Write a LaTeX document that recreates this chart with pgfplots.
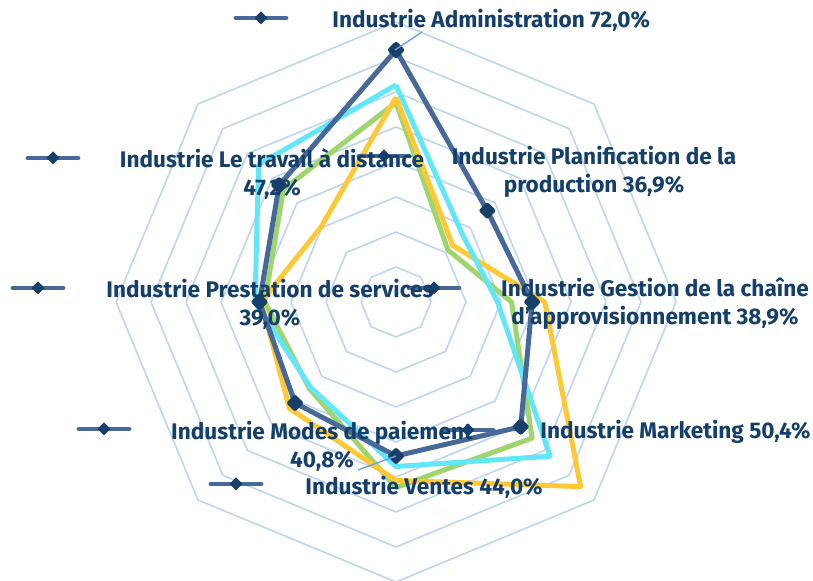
\documentclass[border=0pt]{standalone}
\usepackage{fontspec}
\setmainfont{Fira Sans}
\usepackage{pgfplots}
\usepgfplotslibrary{polar}
\pgfplotsset{compat=1.18}
\usepackage{pgfplotstable}

\definecolor{gridblue}{HTML}{BDD5F3}
\definecolor{leader}{HTML}{6FA0E4}
\definecolor{indline}{HTML}{46699A}
\definecolor{indmark}{HTML}{173F6A}
\definecolor{cyanline}{HTML}{62E6FA}
\definecolor{greenline}{HTML}{9FD56C}
\definecolor{yellowline}{HTML}{FFC935}
\definecolor{labtext}{HTML}{143F6B}

% angle: 90 Administration, 45 Planification, 0 Gestion, 315 Marketing,
% 270 Ventes, 225 Modes de paiement, 180 Prestation, 135 Travail a distance
\pgfplotstableread{
angle industrie cyan green yellow
90  72.0 62.0 57.0 58.5
45  36.9 27.0 21.0 22.9
0   38.9 29.0 33.0 42.5
315 50.4 62.3 55.0 74.6
270 44.0 47.0 53.0 51.0
225 40.8 34.5 35.0 43.0
180 39.0 40.3 37.5 38.5
135 47.2 55.5 45.5 30.3
90  72.0 62.0 57.0 58.5
}\radar

\newcommand{\labkey}[2]{%
  \draw[indline, line width=2.4pt, line cap=round] (#1-25,#2) -- (#1+25,#2);
  \fill[indmark] (#1,#2-6.5) -- (#1+6.5,#2) -- (#1,#2+6.5) -- (#1-6.5,#2) -- cycle;}

\begin{document}
\begin{tikzpicture}
\useasboundingbox (0,0) rectangle (406.5pt,290.5pt);
\clip (0,0) rectangle (406.5pt,290.5pt);
\begin{polaraxis}[
    at={(198pt,139.5pt)}, anchor=origin,
    scale only axis, width=280pt, height=280pt,
    xmin=0, xmax=360, ymin=0, ymax=80,
    hide axis, clip=false,
    line join=round,
]
\pgfplotsinvokeforeach{10,20,...,80}{
  \addplot[gridblue, line width=0.8pt, forget plot] coordinates
    {(90,#1)(45,#1)(0,#1)(315,#1)(270,#1)(225,#1)(180,#1)(135,#1)(90,#1)};
}
\addplot[greenline, line width=2.5pt, no marks] table[x=angle, y=green] {\radar};
\addplot[yellowline, line width=2.5pt, no marks] table[x=angle, y=yellow] {\radar};
\addplot[cyanline, line width=2.5pt, no marks] table[x=angle, y=cyan] {\radar};
\addplot[indline, line width=2.5pt, mark=square*, mark size=1.9pt,
    mark options={indmark, rotate=45}] table[x=angle, y=industrie] {\radar};
\end{polaraxis}

\begin{scope}[x=0.5pt, y=-0.5pt, shift={(0,290.5pt)},
    lab/.style={text=labtext, font=\bfseries\fontsize{11.3}{14}\selectfont, inner sep=0pt, align=center}]
  \draw[leader, line width=0.7pt] (395,50) -- (422,32);
  \draw[leader, line width=0.7pt] (396,456) -- (358,470);
  \labkey{261}{18}
  \labkey{53}{158}
  \labkey{38}{288}
  \labkey{104}{429}
  \labkey{236}{484}
  \labkey{384}{156}
  \labkey{434}{288}
  \labkey{468}{430}
  \node[lab, anchor=west] at (332,20) {Industrie Administration 72,0\%};
  \node[lab] at (272,174) {Industrie Le travail à distance\\47,2\%};
  \node[lab] at (270,304) {Industrie Prestation de services\\39,0\%};
  \node[lab] at (322,446) {Industrie Modes de paiement\\40,8\%};
  \node[lab, anchor=west] at (305,487) {Industrie Ventes 44,0\%};
  \node[lab] at (594,172) {Industrie Planification de la\\production 36,9\%};
  \node[lab] at (655,304) {Industrie Gestion de la chaîne\\d'approvisionnement 38,9\%};
  \node[lab, anchor=west] at (540,432) {Industrie Marketing 50,4\%};
\end{scope}
\end{tikzpicture}
\end{document}
